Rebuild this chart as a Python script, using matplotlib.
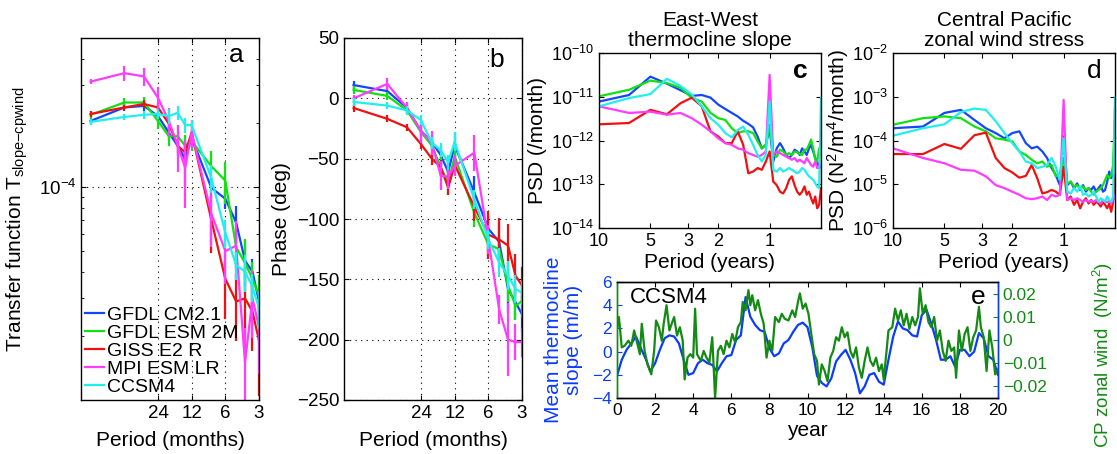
import numpy as np
import matplotlib
matplotlib.use("Agg")
import matplotlib.pyplot as plt
from matplotlib.ticker import FixedLocator, FixedFormatter, NullLocator, NullFormatter, LogLocator

plt.rcParams['font.family'] = ['Liberation Sans', 'DejaVu Sans']
plt.rcParams['mathtext.fontset'] = 'custom'
plt.rcParams['mathtext.rm'] = 'Liberation Sans'
plt.rcParams['mathtext.it'] = 'Liberation Sans:italic'
plt.rcParams['mathtext.bf'] = 'Liberation Sans:bold'
plt.rcParams['xtick.direction'] = 'in'
plt.rcParams['ytick.direction'] = 'in'
plt.rcParams['xtick.top'] = True
plt.rcParams['ytick.right'] = True
plt.rcParams['axes.linewidth'] = 1.0

# ---- data ----
models = ['GFDL CM2.1', 'GFDL ESM 2M', 'GISS E2 R', 'MPI ESM LR', 'CCSM4']
colors = ['#1446ff', '#11e011', '#f01010', '#ff3cff', '#22eeee']

# panels a, b: period in months
period_mo = [96, 48, 32, 24, 19.2, 16, 13.7, 12, 8, 6, 4.8, 4, 3.43, 3]

# transfer function amplitude (x 1e-4)
amp_cm21 = [2.04, 2.36, 2.40, 2.15, 1.80, 1.56, 1.35, 1.70, 0.99, 0.88, 0.68, 0.45, 0.40, 0.29]
amp_esm2m = [2.18, 2.49, 2.49, 2.04, 1.73, 1.73, 1.56, 1.64, 1.25, 1.07, 0.52, 0.44, 0.37, 0.31]
amp_giss = [2.20, 2.36, 2.45, 2.36, 1.98, 1.56, 1.45, 1.80, 0.70, 0.37, 0.29, 0.30, 0.26, 0.19]
amp_mpi = [3.12, 3.42, 3.30, 2.62, 2.04, 1.56, 1.23, 1.80, 0.75, 0.50, 0.53, 0.15, 0.30, 0.22]
amp_ccsm4 = [2.02, 2.13, 2.18, 2.20, 2.15, 2.23, 1.95, 1.95, 1.10, 0.61, 0.43, 0.40, 0.34, 0.27]
# relative error half widths
amp_err_cm21 = [0.03, 0.04, 0.05, 0.05, 0.08, 0.10, 0.25, 0.10, 0.10, 0.10, 0.20, 0.25, 0.15, 0.20]
amp_err_esm2m = [0.04, 0.05, 0.06, 0.08, 0.10, 0.12, 0.12, 0.10, 0.18, 0.22, 0.20, 0.30, 0.20, 0.25]
amp_err_giss = [0.03, 0.03, 0.04, 0.05, 0.07, 0.08, 0.10, 0.10, 0.30, 0.35, 0.35, 0.40, 0.35, 0.45]
amp_err_mpi = [0.03, 0.08, 0.10, 0.12, 0.15, 0.25, 0.35, 0.15, 0.30, 0.30, 0.30, 0.45, 0.35, 0.40]
amp_err_ccsm4 = [0.03, 0.03, 0.04, 0.05, 0.08, 0.08, 0.08, 0.06, 0.15, 0.15, 0.15, 0.20, 0.15, 0.20]

# phase (deg)
ph_cm21 = [11, 6, -8, -27, -36, -47, -61, -39, -78, -108, -119, -158, -169, -179]
ph_esm2m = [7, 2, -10, -28, -39, -57, -70, -48, -95, -121, -125, -155, -172, -168]
ph_giss = [-8, -17, -24, -38, -50, -57, -74, -55, -90, -113, -117, -122, -147, -155]
ph_mpi = [0, 12, -8, -27, -37, -64, -65, -56, -45, -117, -175, -200, -202, -202]
ph_ccsm4 = [-3, -6, -10, -18, -37, -43, -53, -36, -84, -117, -136, -147, -158, -161]
ph_err_cm21 = [3, 3, 3, 5, 6, 8, 12, 10, 14, 10, 16, 20, 15, 15]
ph_err_esm2m = [3, 3, 3, 5, 6, 8, 10, 10, 12, 10, 12, 14, 12, 14]
ph_err_giss = [3, 3, 3, 4, 5, 6, 6, 5, 12, 20, 18, 18, 18, 15]
ph_err_mpi = [3, 5, 5, 10, 10, 12, 10, 8, 15, 12, 12, 30, 15, 12]
ph_err_ccsm4 = [3, 3, 4, 4, 5, 6, 6, 8, 8, 8, 12, 12, 12, 10]

# panels c, d: spectra at frequencies k/20 cycles per year (k = 2..40), log10 PSD
k_freq = np.arange(2, 41)
period_yr = 20.0 / k_freq

c_cm21 = [-11.11, -10.96, -10.54, -10.70, -10.85, -10.98, -10.96, -11.02, -11.18, -11.28,
          -11.37, -11.45, -11.55, -11.62, -11.70, -11.91, -12.18, -12.10, -11.72, -12.48,
          -12.18, -12.06, -12.18, -12.33, -12.40, -12.33, -12.21, -12.25, -12.33, -12.18,
          -12.25, -12.33, -12.18, -12.10, -12.25, -12.40, -12.48, -12.63, -12.60]
c_esm2m = [-10.99, -10.84, -10.63, -10.69, -10.79, -11.03, -11.11, -11.37, -11.49, -11.53,
           -11.72, -11.83, -11.79, -11.79, -11.83, -12.02, -12.18, -12.10, -11.64, -12.33,
           -12.37, -12.21, -12.25, -12.33, -12.29, -12.33, -12.25, -12.27, -12.31, -12.33,
           -12.21, -12.21, -12.10, -11.98, -12.18, -12.44, -12.48, -12.18, -12.30]
c_giss = [-11.63, -11.60, -11.30, -11.40, -11.15, -11.02, -11.22, -11.79, -11.91, -12.06,
          -12.06, -11.79, -12.10, -12.75, -12.71, -12.63, -12.67, -12.48, -12.25, -12.94,
          -13.02, -13.17, -13.21, -13.09, -12.90, -12.82, -13.02, -13.17, -13.24, -13.17,
          -13.05, -13.24, -13.17, -13.32, -13.44, -13.28, -13.55, -13.47, -13.09]
c_mpi = [-11.22, -11.37, -11.34, -11.41, -11.37, -11.49, -11.64, -11.79, -11.95, -12.06,
         -12.10, -12.18, -12.21, -12.29, -12.33, -12.37, -12.33, -12.25, -10.50, -12.33,
         -12.25, -12.29, -12.33, -12.37, -12.40, -12.44, -12.40, -12.48, -12.44, -12.48,
         -12.52, -12.40, -12.48, -12.56, -12.60, -12.48, -12.63, -12.60, -12.56]
c_ccsm4 = [-11.22, -11.03, -10.94, -10.59, -10.75, -10.95, -11.22, -11.49, -11.64, -11.83,
           -11.93, -11.76, -11.68, -11.87, -12.10, -12.33, -12.48, -12.33, -11.11, -12.67,
           -12.71, -12.63, -12.71, -12.67, -12.63, -12.67, -12.71, -12.75, -12.71, -12.63,
           -12.67, -12.75, -12.82, -12.86, -12.90, -12.98, -13.05, -13.09, -11.03]

d_cm21 = [-3.72, -3.68, -3.37, -3.30, -3.53, -3.72, -3.83, -3.95, -3.83, -3.79,
          -4.06, -4.18, -4.14, -4.25, -4.40, -4.63, -4.79, -5.02, -3.91, -5.02,
          -4.94, -5.09, -4.98, -5.13, -5.02, -5.17, -5.09, -5.13, -5.05, -5.17,
          -5.09, -5.02, -5.17, -5.13, -4.94, -4.71, -4.86, -4.79, -3.64]
d_esm2m = [-3.64, -3.49, -3.45, -3.49, -3.68, -3.79, -3.95, -3.98, -4.02, -4.25,
           -4.33, -4.44, -4.52, -4.48, -4.60, -4.56, -4.82, -4.79, -4.40, -4.98,
           -4.94, -5.05, -5.02, -5.09, -5.05, -5.13, -5.09, -5.17, -5.24, -5.17,
           -5.13, -5.09, -5.02, -4.90, -4.79, -4.86, -4.79, -4.56, -3.26]
d_giss = [-4.31, -4.31, -4.08, -4.19, -3.88, -3.82, -4.40, -4.63, -4.73, -4.85,
          -4.81, -4.56, -4.86, -5.21, -5.18, -5.13, -5.17, -5.24, -4.60, -5.36,
          -5.28, -5.47, -5.36, -5.55, -5.40, -5.32, -5.44, -5.36, -5.47, -5.40,
          -5.44, -5.51, -5.40, -5.47, -5.55, -5.44, -5.63, -5.40, -4.80]
d_mpi = [-4.18, -4.40, -4.52, -4.67, -4.69, -4.82, -5.02, -5.09, -5.17, -5.24,
         -5.32, -5.34, -5.32, -5.28, -5.36, -5.24, -5.28, -5.24, -3.07, -5.36,
         -5.32, -5.36, -5.32, -5.36, -5.40, -5.36, -5.40, -5.38, -5.41, -5.36,
         -5.40, -5.44, -5.36, -5.40, -5.41, -5.38, -5.44, -5.36, -5.24]
d_ccsm4 = [-3.89, -3.72, -3.63, -3.35, -3.27, -3.30, -3.56, -3.83, -4.06, -4.25,
           -4.48, -4.52, -4.63, -4.60, -4.56, -4.40, -4.60, -4.90, -3.95, -5.17,
           -5.21, -5.09, -5.17, -5.05, -5.24, -5.21, -5.28, -5.24, -5.17, -5.28,
           -5.40, -5.32, -5.36, -5.40, -5.28, -5.36, -5.40, -5.28, -3.02]

# panel e: CCSM4 time series
slope_t = np.linspace(0, 20, 81)
slope_v = [-2.1, -0.7, 0.15, 0.7, 1.3, 0.3, -0.6, -1.7, -1.0, 0.15, 1.15, 1.4, 1.3,
           0.7, -0.7, -2.0, -1.85, -1.0, -0.7, -1.0, -1.15, -1.7, -1.0, -0.4, -0.3,
           1.0, 1.4, 4.7, 3.0, 2.3, 1.85, 1.7, 0.3, -0.4, -0.15, 0.7, 1.0, 1.7, 2.3,
           2.5, 2.1, 0.4, -2.1, -2.7, -3.0, -2.3, -0.85, -0.3, 0.15, -0.7, -1.85, -3.6,
           -3.0, -2.0, -1.85, -2.6, -2.85, -0.7, 1.3, 2.6, 2.0, 1.85, 1.4, 1.3, 3.15,
           3.6, 2.4, 1.0, -0.7, -0.7, -0.4, -1.3, 0.15, 0.15, -0.4, 0.0, 1.6, 1.15,
           -0.4, -0.7, -2.0]
wind_t = [0.0, 0.1, 0.25, 0.4, 0.6, 0.75, 0.9, 1.05, 1.2, 1.3, 1.45, 1.6, 1.8, 1.95,
          2.05, 2.2, 2.35, 2.45, 2.6, 2.75, 2.9, 3.0, 3.15, 3.3, 3.45, 3.55, 3.7, 3.85,
          4.0, 4.1, 4.2, 4.4, 4.55, 4.7, 4.85, 5.0, 5.15, 5.3, 5.45, 5.6, 5.75, 5.9,
          6.05, 6.2, 6.35, 6.5, 6.6, 6.75, 6.9, 7.0, 7.1, 7.25, 7.4, 7.55, 7.7, 7.85,
          8.0, 8.15, 8.3, 8.5, 8.65, 8.8, 9.0, 9.2, 9.35, 9.5, 9.6, 9.75, 9.9, 10.05,
          10.2, 10.35, 10.5, 10.6, 10.75, 10.9, 11.05, 11.2, 11.35, 11.5, 11.65, 11.8,
          11.95, 12.1, 12.25, 12.4, 12.55, 12.7, 12.85, 13.0, 13.15, 13.3, 13.45, 13.6,
          13.75, 13.9, 14.0, 14.15, 14.25, 14.45, 14.6, 14.75, 14.9, 15.05, 15.2, 15.35,
          15.5, 15.65, 15.8, 15.9, 16.05, 16.2, 16.35, 16.5, 16.65, 16.8, 16.95, 17.1,
          17.25, 17.4, 17.55, 17.7, 17.8, 17.95, 18.1, 18.25, 18.4, 18.55, 18.7, 18.85,
          19.0, 19.1, 19.25, 19.4, 19.55, 19.7, 19.85, 20.0]
wind_v = [0.0048, 0.0099, -0.0032, -0.0025, -0.0003, -0.0025, 0.0041, -0.0010, -0.0061,
          0.0070, -0.0047, -0.0105, -0.0148, -0.0047, 0.0084, 0.0055, -0.0003, 0.0070,
          0.0150, 0.0041, 0.0077, 0.0099, 0.0019, 0.0055, -0.0003, -0.0170, -0.0076,
          -0.0061, -0.0076, 0.0135, -0.0061, -0.0090, -0.0047, -0.0076, -0.0097, 0.0012,
          -0.0250, -0.0047, -0.0025, -0.0061, -0.0003, -0.0032, 0.0026, -0.0010, 0.0055,
          0.0077, 0.0164, 0.0128, 0.0215, 0.0150, 0.0193, 0.0128, 0.0172, 0.0113, 0.0070,
          -0.0076, -0.0003, -0.0047, 0.0099, 0.0077, 0.0113, 0.0092, 0.0084, 0.0128,
          0.0099, 0.0164, 0.0201, 0.0135, 0.0157, 0.0113, 0.0026, -0.0061, -0.0090,
          -0.0192, -0.0105, -0.0134, -0.0177, -0.0076, -0.0047, 0.0012, -0.0003, 0.0055,
          0.0012, 0.0033, -0.0047, -0.0076, -0.0032, -0.0119, -0.0163, -0.0090, -0.0032,
          -0.0090, -0.0112, -0.0076, -0.0134, -0.0105, -0.0170, -0.0047, 0.0041, 0.0055,
          0.0135, 0.0084, 0.0128, 0.0063, 0.0113, 0.0048, 0.0099, 0.0063, 0.0099, 0.0223,
          0.0113, 0.0150, 0.0077, 0.0055, 0.0099, -0.0003, 0.0041, -0.0047, -0.0090,
          -0.0003, -0.0047, -0.0032, -0.0163, 0.0041, -0.0047, 0.0026, 0.0055, -0.0047,
          0.0012, 0.0041, 0.0143, 0.0055, 0.0012, -0.0134, 0.0041, -0.0032, -0.0148, -0.0127]

amps = [amp_cm21, amp_esm2m, amp_giss, amp_mpi, amp_ccsm4]
amp_errs = [amp_err_cm21, amp_err_esm2m, amp_err_giss, amp_err_mpi, amp_err_ccsm4]
phases = [ph_cm21, ph_esm2m, ph_giss, ph_mpi, ph_ccsm4]
ph_errs = [ph_err_cm21, ph_err_esm2m, ph_err_giss, ph_err_mpi, ph_err_ccsm4]
c_spec = [c_cm21, c_esm2m, c_giss, c_mpi, c_ccsm4]
d_spec = [d_cm21, d_esm2m, d_giss, d_mpi, d_ccsm4]

W, H = 1117, 454


def box(l, t, r, b):
    return [l / W, 1 - b / H, (r - l) / W, (b - t) / H]


fig = plt.figure(figsize=(W / 100, H / 100), dpi=100)
LW = 1.6
TICK = 13.5
LAB = 15
dotted = dict(color='k', linestyle=(0, (1, 4)), linewidth=0.8)

# ---- panel a ----
ax = fig.add_axes(box(81, 38, 259, 400))
p = np.array(period_mo)
for name, col, v, e in zip(models, colors, amps, amp_errs):
    v = np.array(v) * 1e-4
    e = np.array(e)
    ax.vlines(p, v * (1 - e), v * (1 + e), color=col, lw=LW)
    ax.plot(p, v, color=col, lw=LW, label=name)
ax.set_xscale('log')
ax.set_yscale('log')
ax.set_xlim(117, 3)
ax.set_ylim(1e-5, 5e-4)
ax.xaxis.set_major_locator(FixedLocator([24, 12, 6, 3]))
ax.xaxis.set_major_formatter(FixedFormatter(['24', '12', '6', '3']))
ax.xaxis.set_minor_locator(NullLocator())
ax.yaxis.set_major_locator(FixedLocator([1e-4]))
ax.yaxis.set_major_formatter(FixedFormatter([r'$10^{-4}$']))
ax.yaxis.set_minor_locator(LogLocator(base=10, subs=np.arange(2, 10)))
ax.yaxis.set_minor_formatter(NullFormatter())
ax.grid(True, which='major', **dotted)
ax.tick_params(labelsize=TICK)
ax.set_xlabel('Period (months)', fontsize=LAB)
ax.xaxis.set_label_coords(0.5, -0.085)
ax.set_ylabel(r'Transfer function T$_{\rm slope{-}cpwind}$', fontsize=LAB)
ax.yaxis.set_label_coords(-0.285, 0.5)
ax.text(0.87, 0.953, 'a', transform=ax.transAxes, fontsize=19, ha='center', va='center')
ax.legend(loc='lower left', frameon=False, fontsize=14, handlelength=1.0,
          handletextpad=0.15, labelspacing=0.02, borderaxespad=0.1, borderpad=0.1)

# ---- panel b ----
ax = fig.add_axes(box(344, 38, 522, 400))
for name, col, v, e in zip(models, colors, phases, ph_errs):
    v = np.array(v)
    e = np.array(e)
    ax.vlines(p, v - e, v + e, color=col, lw=LW)
    ax.plot(p, v, color=col, lw=LW)
ax.set_xscale('log')
ax.set_xlim(117, 3)
ax.set_ylim(-250, 50)
ax.xaxis.set_major_locator(FixedLocator([24, 12, 6, 3]))
ax.xaxis.set_major_formatter(FixedFormatter(['24', '12', '6', '3']))
ax.xaxis.set_minor_locator(NullLocator())
ax.set_yticks(range(-250, 51, 50))
ax.grid(True, which='major', **dotted)
ax.tick_params(labelsize=TICK)
ax.set_xlabel('Period (months)', fontsize=LAB)
ax.xaxis.set_label_coords(0.5, -0.085)
ax.set_ylabel('Phase (deg)', fontsize=LAB)
ax.yaxis.set_label_coords(-0.30, 0.5)
ax.text(0.86, 0.94, 'b', transform=ax.transAxes, fontsize=19, ha='center', va='center')


# ---- panels c, d ----
def spectrum_panel(rect, spec, ylim, ylabel, title, letter, bold):
    ax = fig.add_axes(box(*rect))
    for col, s in zip(colors, spec):
        ax.plot(period_yr, 10.0 ** np.array(s), color=col, lw=LW)
    ax.set_xscale('log')
    ax.set_yscale('log')
    ax.set_xlim(10, 0.5)
    ax.set_ylim(*ylim)
    ax.xaxis.set_major_locator(FixedLocator([10, 5, 3, 2, 1]))
    ax.xaxis.set_major_formatter(FixedFormatter(['10', '5', '3', '2', '1']))
    ax.xaxis.set_minor_locator(NullLocator())
    ax.yaxis.set_major_locator(LogLocator(base=10, numticks=10))
    ax.yaxis.set_minor_locator(NullLocator())
    ax.tick_params(labelsize=13)
    ax.set_xlabel('Period (years)', fontsize=LAB)
    ax.xaxis.set_label_coords(0.5, -0.14)
    ax.set_ylabel(ylabel, fontsize=LAB)
    ax.set_title(title, fontsize=LAB, pad=5, linespacing=1.1)
    ax.text(0.905, 0.9, letter, transform=ax.transAxes, fontsize=19, ha='center',
            va='center', fontweight='bold' if bold else 'normal')
    return ax


ax = spectrum_panel((599, 53, 821, 228), c_spec, (1e-14, 1e-10), 'PSD (/month)',
                    'East-West\nthermocline slope', 'c', True)
ax.yaxis.set_label_coords(-0.235, 0.5)
ax = spectrum_panel((893, 53, 1115, 228), d_spec, (1e-6, 1e-2),
                    r'PSD (N$^2$/m$^4$/month)', 'Central Pacific\nzonal wind stress', 'd', False)
ax.yaxis.set_label_coords(-0.19, 0.5)

# ---- panel e ----
blue_e = '#0a3cff'
green_e = '#138a13'
ax = fig.add_axes(box(617, 282, 998, 398))
ax.plot(slope_t, slope_v, color=blue_e, lw=LW)
ax.set_xlim(0, 20)
ax.set_ylim(-4, 6)
ax.set_xticks(range(0, 21, 2))
ax.set_yticks(range(-4, 7, 2))
ax.tick_params(axis='x', labelsize=12.5)
ax.tick_params(axis='y', labelsize=12.5, colors=blue_e, right=False)
ax.spines['left'].set_color(green_e)
ax.spines['right'].set_color(blue_e)
ax.set_xlabel('year', fontsize=LAB)
ax.xaxis.set_label_coords(0.5, -0.2)
ax.set_ylabel('Mean thermocline\nslope (m/m)', fontsize=LAB, color=blue_e, linespacing=1.05)
ax.yaxis.set_label_coords(-0.089, 0.5)
ax.text(0.035, 0.87, 'CCSM4', transform=ax.transAxes, fontsize=16, ha='left', va='center')
ax.text(0.948, 0.87, 'e', transform=ax.transAxes, fontsize=19, ha='center', va='center')

ax2 = ax.twinx()
ax2.plot(wind_t, wind_v, color=green_e, lw=LW)
ax2.set_ylim(-0.025, 0.025)
ax2.set_yticks([-0.02, -0.01, 0, 0.01, 0.02])
ax2.set_yticklabels(['\u22120.02', '\u22120.01', '0', '0.01', '0.02'])
ax2.tick_params(axis='y', labelsize=12.5, colors=green_e, left=False, right=True)
ax2.spines['left'].set_color(green_e)
ax2.spines['right'].set_color(blue_e)
ax2.set_ylabel(r'CP zonal wind  (N/m$^2$)', fontsize=13.5, color=green_e)
ax2.yaxis.set_label_coords(1.245, 0.37)

fig.savefig('out.png', dpi=100)
